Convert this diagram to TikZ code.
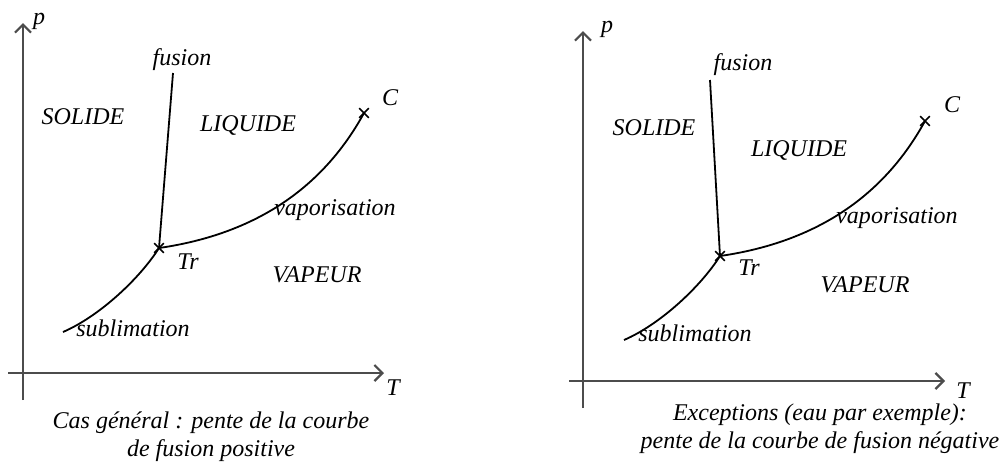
\documentclass[tikz,border=0pt]{standalone}
\usepackage{fontspec}
\setmainfont{Liberation Serif}
\usetikzlibrary{arrows.meta, positioning, shapes.misc}
\tikzset{
  axe/.style={draw=black!70, line width=1.1pt, -{Straight Barb[length=4pt, width=8pt]}},
  courbe/.style={draw=black, line width=0.9pt},
  croix/.style={cross out, draw=black, line width=0.8pt, minimum size=4pt, inner sep=0pt},
  lbl/.style={font=\fontsize{12}{14}\selectfont\itshape, inner sep=0pt},
  legende/.style={lbl, align=center},
}

\begin{document}
\begin{tikzpicture}[x=0.5pt, y=-0.5pt]
  \useasboundingbox (0,0) rectangle (1006,468);

  % CAS GENERAL
  \coordinate (g_pbas) at (23,400);
  \coordinate (g_phaut) at (23,23);
  \coordinate (g_tgau) at (8,373);
  \coordinate (g_tdro) at (384,373);
  \coordinate (g_tr) at (159,248);
  \coordinate (g_c) at (364,113);
  \coordinate (g_fus) at (173,73);
  \coordinate (g_sub) at (63,332);

  \draw[axe] (g_pbas) -- (g_phaut);
  \draw[axe] (g_tgau) -- (g_tdro);
  \draw[courbe] (g_tr) -- (g_fus);
  \draw[courbe] (g_tr) .. controls (270,232) and (330,175) .. (g_c);
  \draw[courbe] (g_sub) .. controls (100,316) and (140,278) .. (g_tr);
  \node[croix] (g_trx) at (g_tr) {};
  \node[croix] (g_cx) at (g_c) {};

  \node[lbl] (g_p) at (39,21) {p};
  \node[lbl] (g_t) at (393,388) {T};
  \node[lbl] (g_fusion) at (182,60) {fusion};
  \node[lbl] (g_solide) at (83,117) {SOLIDE};
  \node[lbl] (g_liquide) at (248,125) {LIQUIDE};
  \node[lbl] (g_clbl) at (390,98) {C};
  \node[lbl] (g_vapo) at (335,210) {vaporisation};
  \node[lbl] (g_trlbl) at (188,262) {Tr};
  \node[lbl] (g_vapeur) at (317,275) {VAPEUR};
  \node[lbl] (g_subli) at (133,328) {sublimation};
  \node[legende] (g_leg) at (211,437) {Cas général : pente de la courbe\\de fusion positive};

  % EXCEPTIONS
  \coordinate (e_pbas) at (583,408);
  \coordinate (e_phaut) at (583,31);
  \coordinate (e_tgau) at (569,381);
  \coordinate (e_tdro) at (945,381);
  \coordinate (e_tr) at (720,256);
  \coordinate (e_c) at (925,121);
  \coordinate (e_fus) at (710,80);
  \coordinate (e_sub) at (624,340);

  \draw[axe] (e_pbas) -- (e_phaut);
  \draw[axe] (e_tgau) -- (e_tdro);
  \draw[courbe] (e_tr) -- (e_fus);
  \draw[courbe] (e_tr) .. controls (831,240) and (891,183) .. (e_c);
  \draw[courbe] (e_sub) .. controls (661,324) and (701,286) .. (e_tr);
  \node[croix] (e_trx) at (e_tr) {};
  \node[croix] (e_cx) at (e_c) {};

  \node[lbl] (e_p) at (607,29) {p};
  \node[lbl] (e_t) at (963,391) {T};
  \node[lbl] (e_fusion) at (743,65) {fusion};
  \node[lbl] (e_solide) at (654,128) {SOLIDE};
  \node[lbl] (e_liquide) at (799,150) {LIQUIDE};
  \node[lbl] (e_clbl) at (952,105) {C};
  \node[lbl] (e_vapo) at (897,218) {vaporisation};
  \node[lbl] (e_trlbl) at (749,268) {Tr};
  \node[lbl] (e_vapeur) at (865,285) {VAPEUR};
  \node[lbl] (e_subli) at (695,333) {sublimation};
  \node[legende] (e_leg) at (820,429) {Exceptions (eau par exemple):\\pente de la courbe de fusion négative};
\end{tikzpicture}
\end{document}
